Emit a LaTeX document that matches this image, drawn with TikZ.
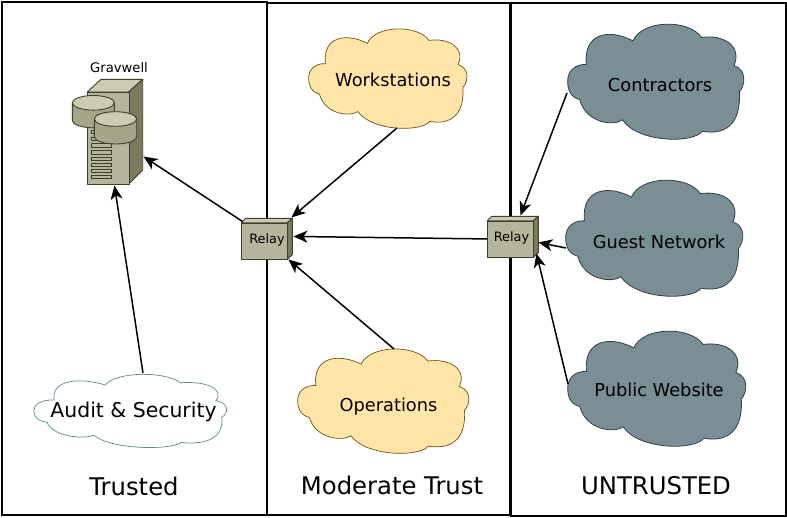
\documentclass[tikz,border=0pt]{standalone}
\usepackage{fontspec}
\setmainfont{DejaVu Sans}
\usetikzlibrary{arrows.meta}
\definecolor{cloudgrey}{HTML}{7A8E96}
\definecolor{cloudgreyline}{HTML}{2F3F45}
\definecolor{cloudyellow}{HTML}{FFE6A8}
\definecolor{cloudyellowline}{HTML}{6B5410}
\definecolor{cloudteal}{HTML}{5F8A8B}
\definecolor{hwfront}{HTML}{B5B59B}
\definecolor{hwtop}{HTML}{CCCCB3}
\definecolor{hwside}{HTML}{7A7A5C}
\definecolor{hwcyl}{HTML}{A5A58A}
\definecolor{hwline}{HTML}{3F3F2A}
\tikzset{
  x=1pt,y=-1pt,
  panel/.style={draw=black,line width=1.4pt,fill=none},
  link/.style={draw=black,line width=1.5pt,-{Stealth[length=14pt,width=12pt,inset=4pt]}},
  hw/.style={draw=hwline,line width=0.9pt,line join=round},
  greycloud/.style={fill=cloudgrey,draw=cloudgreyline,line width=0.8pt},
  yellowcloud/.style={fill=cloudyellow,draw=cloudyellowline,line width=0.7pt},
  whitecloud/.style={fill=white,draw=cloudteal,line width=0.7pt},
  cloudtext/.style={font=\fontsize{17.8}{20}\selectfont,text=black},
  zonetext/.style={font=\fontsize{24.3}{27}\selectfont,text=black},
  relaytext/.style={font=\fontsize{12.9}{14}\selectfont,text=black},
}
% args: name, style, left, top, width, height, label, label x, label y
\newcommand{\cloudat}[9]{%
  \begin{scope}[shift={(#3,#4)},x=#5/534*1pt,y=-#6/350*1pt]
    \path[#2] (2,175) .. controls (2,145) and (25,124) .. (58,126)
      .. controls (48,30) and (130,20) .. (198,56)
      .. controls (226,-8) and (366,-9) .. (404,46)
      .. controls (470,36) and (526,72) .. (501,129)
      .. controls (541,142) and (534,190) .. (517,207)
      .. controls (523,308) and (470,336) .. (406,324)
      .. controls (380,360) and (215,360) .. (166,290)
      .. controls (146,308) and (58,304) .. (38,230)
      .. controls (10,223) and (2,200) .. (2,175) -- cycle;
  \end{scope}
  \node[inner sep=0pt,minimum width=#5pt,minimum height=#6pt] (#1) at (#3+#5/2,#4+#6/2) {};
  \node[cloudtext] (#1label) at (#8,#9) {#7};
}
% args: name, left, top (front face corner), label x
\newcommand{\relayat}[4]{%
  \path[hw,fill=hwtop] (#2,#3) -- (#2+4.5,#3-4.4) -- (#2+51,#3-4.4) -- (#2+46,#3) -- cycle;
  \path[hw,fill=hwside] (#2+46,#3) -- (#2+51,#3-4.4) -- (#2+51,#3+32) -- (#2+46,#3+36.6) -- cycle;
  \node[hw,fill=hwfront,minimum width=46pt,minimum height=36.6pt,inner sep=0pt,anchor=north west] (#1) at (#2,#3) {};
  \node[relaytext] (#1label) at (#4,#3+17.5) {Relay};
}
\newcommand{\cylat}[3]{% left, ellipse top, width
  \path[hw,fill=hwcyl] (#1,#2+7.3) -- (#1,#2+25) arc[start angle=180,end angle=360,x radius=#3/2,y radius=-7.3] -- (#1+#3,#2+7.3) -- cycle;
  \path[hw,fill=hwtop] (#1+#3/2,#2+7.3) ellipse[x radius=#3/2,y radius=7.3];
}
\begin{document}
\begin{tikzpicture}
\useasboundingbox (0,0) rectangle (787,517);
\fill[white] (0,0) rectangle (787,517);
% panels
\draw[panel] (2,2) rectangle (267,515);
\draw[panel] (267,3) rectangle (510,515);
\draw[panel] (511,3) rectangle (786,516);
\node[zonetext] (trusted) at (134,486) {Trusted};
\node[zonetext] (moderate) at (392,485.5) {Moderate Trust};
\node[zonetext] (untrusted) at (656,485.5) {UNTRUSTED};
% clouds
\cloudat{workstations}{yellowcloud}{308}{27}{160}{102}{Workstations}{393}{79.5}
\cloudat{operations}{yellowcloud}{297}{347}{173}{107}{Operations}{388.5}{407}
\cloudat{contractors}{greycloud}{567}{22}{178}{118}{Contractors}{660}{85}
\cloudat{guest}{greycloud}{565}{178}{179}{119}{Guest Network}{659}{241.5}
\cloudat{public}{greycloud}{567}{329}{180}{118}{Public Website}{659}{389.5}
\cloudat{audit}{whitecloud}{33}{373}{195}{75}{\fontsize{20.4}{22}\selectfont Audit \& Security}{133.5}{412}
% server
\path[hw,fill=hwtop] (87.3,92) -- (101,79.3) -- (142.7,79.3) -- (128.7,92) -- cycle;
\path[hw,fill=hwside] (128.7,92) -- (142.7,79.3) -- (142.7,170) -- (128.7,184) -- cycle;
\node[hw,fill=hwfront,minimum width=41.4pt,minimum height=92pt,inner sep=0pt,anchor=north west] (server) at (87.3,92) {};
\foreach \sy in {130,137,143.5,150.5,157,163,169,175}
  \path[draw=hwline,line width=0.7pt,fill=hwfront] (91.3,\sy) rectangle (111.7,\sy+3.7);
\cylat{72.3}{95.5}{42}
\cylat{94.3}{111.7}{42.4}
\node[font=\fontsize{13.2}{14}\selectfont,text=black] (gravwell) at (119,67.5) {Gravwell};
% relays
\relayat{relayone}{241.3}{222.7}{267}
\relayat{relaytwo}{487.3}{220.7}{511.5}
% connectors
\draw[link] ([shift={(9,50)}]workstations.center) -- ([shift={(26.7,-24)}]relayone.center);
\draw[link] ([shift={(-23,-0.5)}]relaytwo.center) -- ([shift={(28.7,-5)}]relayone.center);
\draw[link] ([shift={(10.5,-51.5)}]operations.center) -- ([shift={(23.7,18)}]relayone.center);
\draw[link] ([shift={(-22.3,-20)}]relayone.center) -- ([shift={(35,18)}]server.center);
\draw[link] ([shift={(12.5,-37.5)}]audit.center) -- ([shift={(6,47)}]server.center);
\draw[link] ([shift={(-89,12)}]contractors.center) -- ([shift={(9.7,-24)}]relaytwo.center);
\draw[link] ([shift={(-88.5,10.5)}]guest.center) -- ([shift={(27.7,3)}]relaytwo.center);
\draw[link] ([shift={(-89,-4)}]public.center) -- ([shift={(25.7,14)}]relaytwo.center);
\end{tikzpicture}
\end{document}
